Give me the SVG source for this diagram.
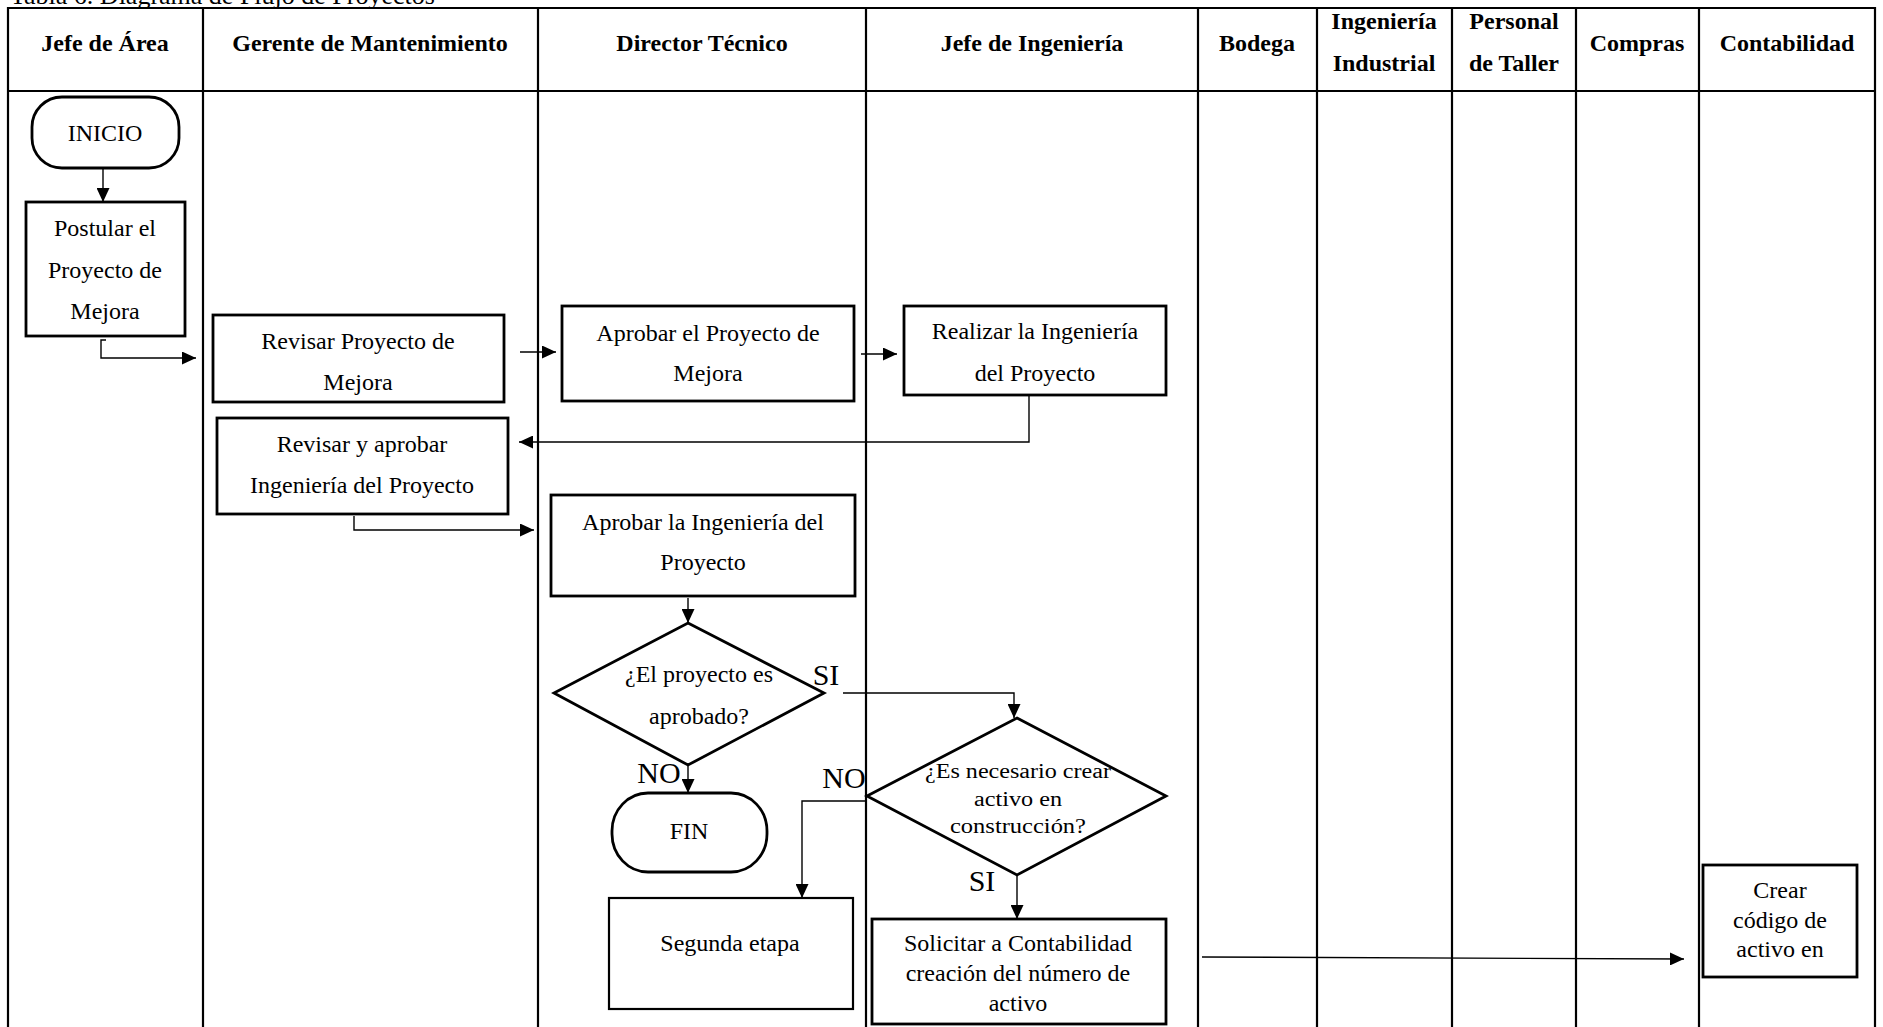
<svg xmlns="http://www.w3.org/2000/svg" width="1883" height="1027" viewBox="0 0 1883 1027">
<defs>
<marker id="arr" markerUnits="userSpaceOnUse" markerWidth="15" markerHeight="13" refX="14" refY="6.5" orient="auto">
<path d="M0,0 L14,6.5 L0,13 z" fill="#000"/>
</marker>
<style>
.grid{stroke:#000;stroke-width:2.2;fill:none}
.hd{font-family:"Liberation Serif","Times New Roman",serif;font-weight:bold;font-size:24px;text-anchor:middle;fill:#000}
.tx{font-family:"Liberation Serif","Times New Roman",serif;font-size:24px;text-anchor:middle;fill:#000}
.sm{font-family:"Liberation Serif","Times New Roman",serif;font-size:20px;text-anchor:middle;fill:#000}
.lb{font-family:"Liberation Serif","Times New Roman",serif;font-size:30px;text-anchor:middle;fill:#000}
.box{fill:#fff;stroke:#000;stroke-width:2.8}
.thin{fill:#fff;stroke:#000;stroke-width:2.2}
.con{fill:none;stroke:#000;stroke-width:1.4}
</style>
</defs>
<rect width="1883" height="1027" fill="#fff"/>
<text x="10" y="4" font-family="Liberation Serif, serif" font-size="26">Tabla 6. Diagrama de Flujo de Proyectos</text>

<g id="table">
<path class="grid" d="M8,1027 V8 H1875 V1027 M8,91 H1875 M203,8 V1027 M538,8 V1027 M866,8 V1027 M1198,8 V1027 M1317,8 V1027 M1452,8 V1027 M1576,8 V1027 M1699,8 V1027"/>
<text class="hd" x="105" y="51">Jefe de Área</text>
<text class="hd" x="370" y="51">Gerente de Mantenimiento</text>
<text class="hd" x="702" y="51">Director Técnico</text>
<text class="hd" x="1032" y="51">Jefe de Ingeniería</text>
<text class="hd" x="1257" y="51">Bodega</text>
<text class="hd" x="1384" y="29">Ingeniería</text>
<text class="hd" x="1384" y="71">Industrial</text>
<text class="hd" x="1514" y="29">Personal</text>
<text class="hd" x="1514" y="71">de Taller</text>
<text class="hd" x="1637" y="51">Compras</text>
<text class="hd" x="1787" y="51">Contabilidad</text>
</g>

<g id="connectors">
<path class="con" d="M103,168 V202" marker-end="url(#arr)"/>
<path class="con" d="M106,340 H101 V358 H196" marker-end="url(#arr)"/>
<path class="con" d="M520,352 H556" marker-end="url(#arr)"/>
<path class="con" d="M861,354 H897" marker-end="url(#arr)"/>
<path class="con" d="M1029,395 V442 H519" marker-end="url(#arr)"/>
<path class="con" d="M354,516 V530 H534" marker-end="url(#arr)"/>
<path class="con" d="M688,598 V623" marker-end="url(#arr)"/>
<path class="con" d="M843,693 H1014 V718" marker-end="url(#arr)"/>
<path class="con" d="M688,765 V793" marker-end="url(#arr)"/>
<path class="con" d="M866,801 H802 V898" marker-end="url(#arr)"/>
<path class="con" d="M1017,875 V919" marker-end="url(#arr)"/>
<path class="con" d="M1202,957 L1684,959" marker-end="url(#arr)"/>
<text class="lb" x="826" y="685">SI</text>
<text class="lb" x="659" y="783">NO</text>
<text class="lb" x="844" y="788">NO</text>
<text class="lb" x="982" y="891">SI</text>
</g>

<g id="inicio">
<rect class="box" x="32" y="97" width="147" height="71" rx="30" ry="30"/>
<text class="tx" x="105" y="141">INICIO</text>
</g>
<g id="postular">
<rect class="box" x="26" y="202" width="159" height="134"/>
<text class="tx" x="105" y="236">Postular el</text>
<text class="tx" x="105" y="278">Proyecto de</text>
<text class="tx" x="105" y="319">Mejora</text>
</g>
<g id="revisar">
<rect class="box" x="213" y="315" width="291" height="87"/>
<text class="tx" x="358" y="349">Revisar Proyecto de</text>
<text class="tx" x="358" y="390">Mejora</text>
</g>
<g id="aprobar-proyecto">
<rect class="box" x="562" y="306" width="292" height="95"/>
<text class="tx" x="708" y="341">Aprobar el Proyecto de</text>
<text class="tx" x="708" y="381">Mejora</text>
</g>
<g id="realizar">
<rect class="box" x="904" y="306" width="262" height="89"/>
<text class="tx" x="1035" y="339">Realizar la Ingeniería</text>
<text class="tx" x="1035" y="381">del Proyecto</text>
</g>
<g id="revisar-aprobar">
<rect class="box" x="217" y="418" width="291" height="96"/>
<text class="tx" x="362" y="452">Revisar y aprobar</text>
<text class="tx" x="362" y="493">Ingeniería del Proyecto</text>
</g>
<g id="aprobar-ingenieria">
<rect class="box" x="551" y="495" width="304" height="101"/>
<text class="tx" x="703" y="530">Aprobar la Ingeniería del</text>
<text class="tx" x="703" y="570">Proyecto</text>
</g>
<g id="decision-aprobado">
<polygon class="box" points="688,623 824,693 688,765 554,693"/>
<text class="tx" x="699" y="682">¿El proyecto es</text>
<text class="tx" x="699" y="724">aprobado?</text>
</g>
<g id="fin">
<rect class="box" x="612" y="793" width="155" height="79" rx="36" ry="38"/>
<text class="tx" x="689" y="839">FIN</text>
</g>
<g id="decision-activo">
<polygon class="box" points="1017,718 1166,796 1017,875 867,796"/>
<text class="sm" x="1018" y="778" textLength="186" lengthAdjust="spacingAndGlyphs">¿Es necesario crear</text>
<text class="sm" x="1018" y="806" textLength="88" lengthAdjust="spacingAndGlyphs">activo en</text>
<text class="sm" x="1018" y="833" textLength="136" lengthAdjust="spacingAndGlyphs">construcción?</text>
</g>
<g id="segunda">
<rect class="thin" x="609" y="898" width="244" height="111"/>
<text class="tx" x="730" y="951">Segunda etapa</text>
</g>
<g id="solicitar">
<rect class="box" x="872" y="919" width="294" height="105"/>
<text class="tx" x="1018" y="951">Solicitar a Contabilidad</text>
<text class="tx" x="1018" y="981">creación del número de</text>
<text class="tx" x="1018" y="1011">activo</text>
</g>
<g id="crear">
<rect class="box" x="1703" y="865" width="154" height="112"/>
<text class="tx" x="1780" y="898">Crear</text>
<text class="tx" x="1780" y="928">código de</text>
<text class="tx" x="1780" y="957">activo en</text>
</g>
</svg>
